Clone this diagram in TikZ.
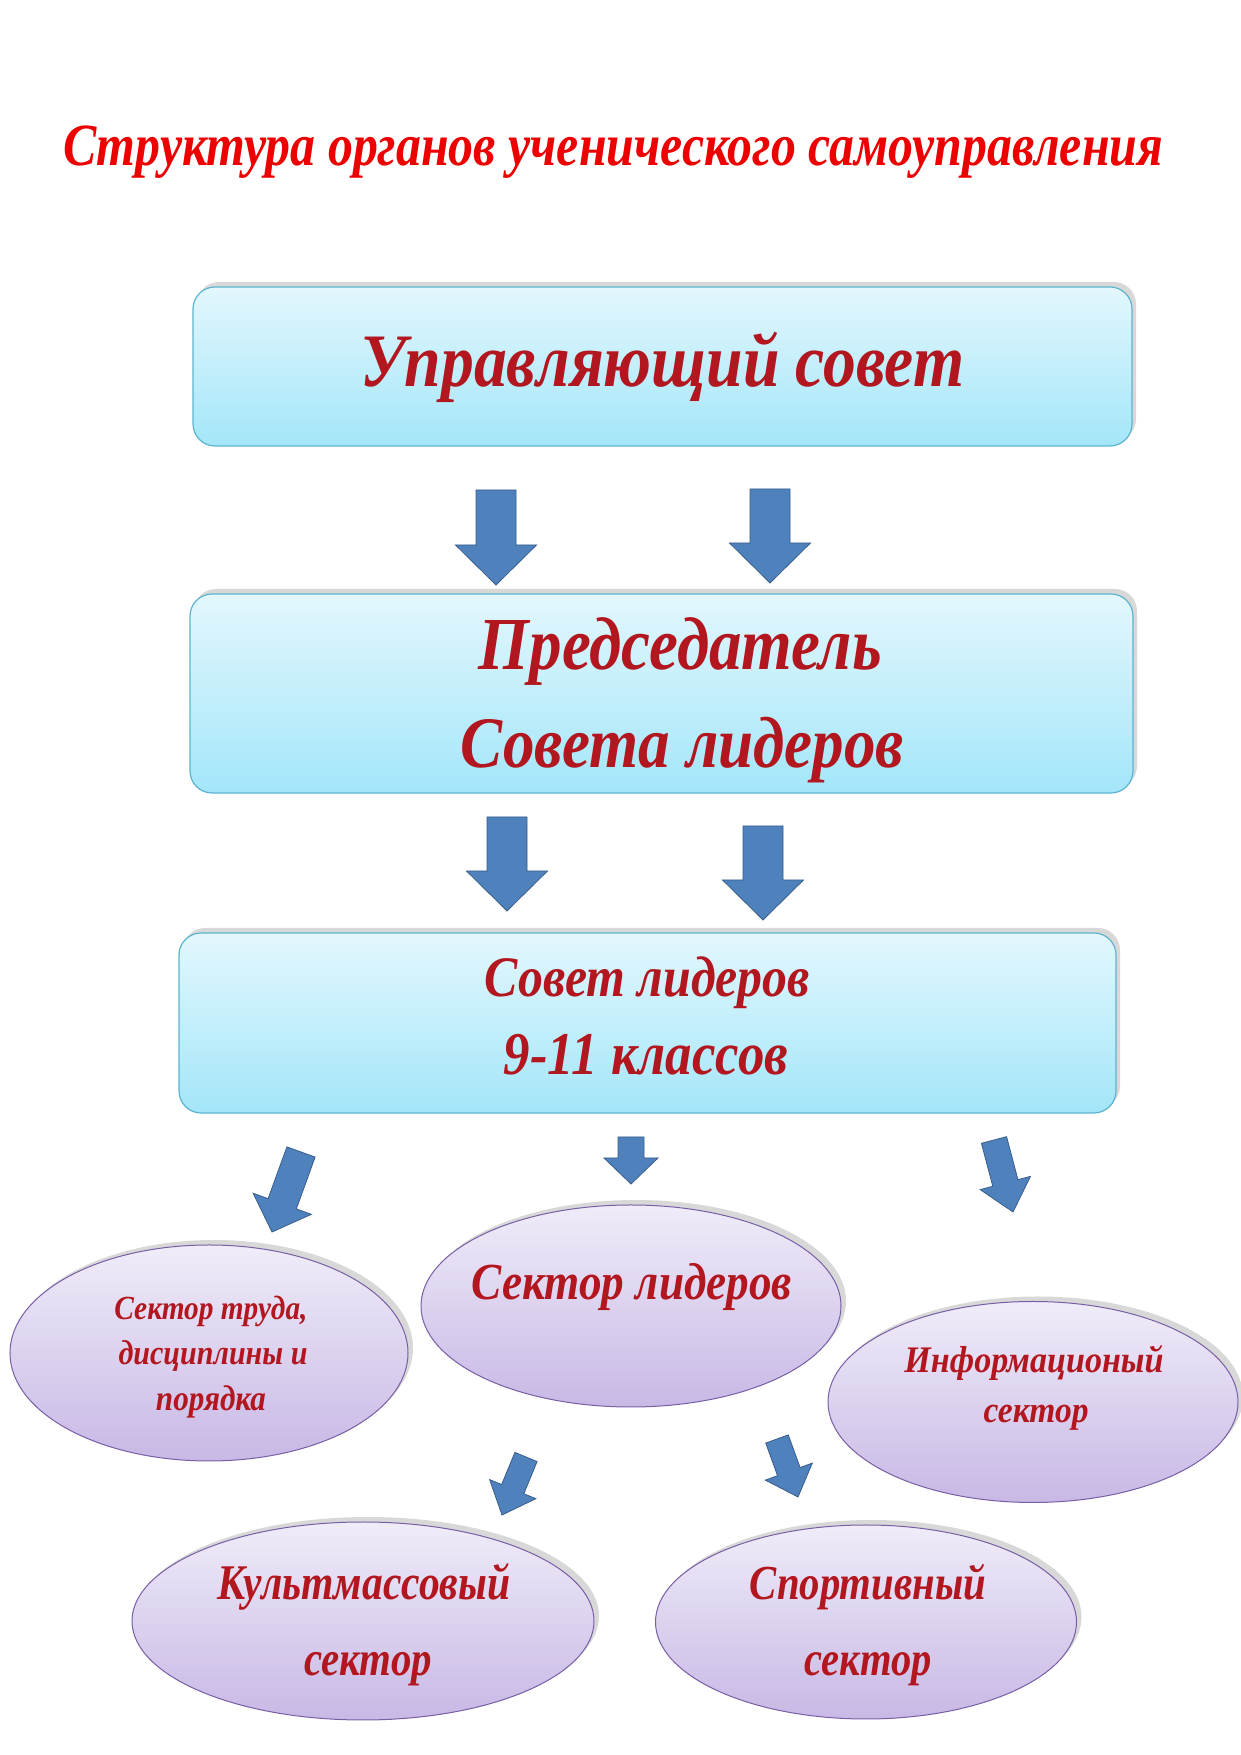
\documentclass[tikz,border=0pt]{standalone}
\usepackage{fontspec}
\setmainfont{Liberation Serif}
\usepackage{graphicx}
\usetikzlibrary{shapes.geometric,shadows,calc}
\definecolor{boxtop}{RGB}{227,247,253}
\definecolor{boxbot}{RGB}{163,230,249}
\definecolor{boxedge}{RGB}{92,180,206}
\definecolor{elltop}{RGB}{240,236,249}
\definecolor{ellbot}{RGB}{200,184,229}
\definecolor{elledge}{RGB}{120,94,165}
\definecolor{arrfill}{RGB}{79,129,189}
\definecolor{arredge}{RGB}{56,93,138}
\definecolor{txtred}{RGB}{178,22,30}
\definecolor{titlered}{RGB}{236,0,0}
\newcommand{\fitt}[3]{\resizebox{#1pt}{!}{\scalebox{1}[#2]{#3}}}
\newcommand{\blockarrow}[5]{%
  \coordinate (hb) at ($(#2)!#5pt!(#1)$);
  \path[arrowstyle] ($(#1)!#3pt/2!-90:(#2)$) -- ($(hb)!#3pt/2!-90:(#2)$) -- ($(hb)!#4pt/2!-90:(#2)$) -- (#2)
    -- ($(hb)!#4pt/2!90:(#2)$) -- ($(hb)!#3pt/2!90:(#2)$) -- ($(#1)!#3pt/2!90:(#2)$) -- cycle;}
\tikzset{
  boxnode/.style={draw=boxedge, line width=1.2pt, rounded corners=22pt, top color=boxtop, bottom color=boxbot,
    drop shadow={shadow xshift=4pt, shadow yshift=5pt, opacity=0.3}, inner sep=0pt},
  ellnode/.style={ellipse, draw=elledge, line width=1pt, top color=elltop, bottom color=ellbot,
    drop shadow={shadow xshift=5pt, shadow yshift=5pt, opacity=0.3}, inner sep=0pt},
  arrowstyle/.style={fill=arrfill, draw=arredge, line width=0.8pt, line join=miter},
  txt/.style={anchor=base, inner sep=0pt, text=txtred, font=\bfseries\itshape},
  ttl/.style={anchor=base, inner sep=0pt, text=titlered, font=\bfseries\itshape},
}
\begin{document}
\begin{tikzpicture}[x=1pt,y=1pt]
\path[use as bounding box, fill=white] (0,0) rectangle (1241,1755);

% title
\node[ttl] (title) at (613,1589) {\fitt{1100}{1.2}{Структура органов ученического самоуправления}};

% boxes
\node[boxnode, minimum width=939pt, minimum height=159pt] (b1) at (662.5,1388.5) {};
\node[boxnode, minimum width=943pt, minimum height=199pt] (b2) at (661.5,1061.5) {};
\node[boxnode, minimum width=937pt, minimum height=180pt] (b3) at (647.5,732) {};

\node[txt] (t1) at (662.5,1368) {\fitt{603}{1.15}{Управляющий совет}};
\node[txt] (t2a) at (680.5,1085) {\fitt{403}{1.15}{Председатель}};
\node[txt] (t2b) at (682.5,987) {\fitt{443}{1.15}{Совета лидеров}};
\node[txt] (t3a) at (647.5,758) {\fitt{325}{1.15}{Совет лидеров}};
\node[txt] (t3b) at (646,680) {\fitt{284}{1.15}{9-11 классов}};

% ellipses
\node[ellnode, minimum width=398pt, minimum height=216pt] (eL) at (209,402) {};
\node[ellnode, minimum width=420pt, minimum height=202pt] (eM) at (631,449) {};
\node[ellnode, minimum width=410pt, minimum height=201pt] (eR) at (1033,353) {};
\node[ellnode, minimum width=462pt, minimum height=198pt] (eBL) at (363,134) {};
\node[ellnode, minimum width=421pt, minimum height=194pt] (eBR) at (866,133) {};

\node[txt] (tM) at (632,455) {\fitt{320}{1.15}{Сектор лидеров}};
\node[txt] (tLa) at (211,435) {\fitt{193}{1.15}{Сектор труда,}};
\node[txt] (tLb) at (213,390) {\fitt{189}{1.15}{дисциплины и}};
\node[txt] (tLc) at (211,344) {\fitt{110}{1.15}{порядка}};
\node[txt] (tRa) at (1034,382) {\fitt{259}{1.1}{Информационый}};
\node[txt] (tRb) at (1036,332) {\fitt{105}{1.1}{сектор}};
\node[txt] (tBLa) at (364,155) {\fitt{293}{1.2}{Культмассовый}};
\node[txt] (tBLb) at (368,79) {\fitt{128}{1.2}{сектор}};
\node[txt] (tBRa) at (868,155) {\fitt{236}{1.2}{Спортивный}};
\node[txt] (tBRb) at (868,79) {\fitt{127}{1.2}{сектор}};

% arrows
\coordinate (a1s) at (496,1265); \coordinate (a1e) at (496,1170);
\coordinate (a2s) at (770,1266); \coordinate (a2e) at (770,1172);
\coordinate (a3s) at (507,938);  \coordinate (a3e) at (507,844);
\coordinate (a4s) at (763,929);  \coordinate (a4e) at (763,835);
\coordinate (a5s) at (301,603);  \coordinate (a5e) at (272,523);
\coordinate (a6s) at (631,618);  \coordinate (a6e) at (631,571);
\coordinate (a7s) at (994,615);  \coordinate (a7e) at (1013,543);
\coordinate (a8s) at (526,298);  \coordinate (a8e) at (502,240);
\coordinate (a9s) at (777,316);  \coordinate (a9e) at (798,258);
\blockarrow{a1s}{a1e}{40}{81}{40}
\blockarrow{a2s}{a2e}{40}{81}{40}
\blockarrow{a3s}{a3e}{40}{81}{40}
\blockarrow{a4s}{a4e}{40}{81}{40}
\blockarrow{a5s}{a5e}{30}{62}{30}
\blockarrow{a6s}{a6e}{26}{54}{26}
\blockarrow{a7s}{a7e}{26}{52}{30}
\blockarrow{a8s}{a8e}{24}{50}{28}
\blockarrow{a9s}{a9e}{24}{50}{27}
\end{tikzpicture}
\end{document}
